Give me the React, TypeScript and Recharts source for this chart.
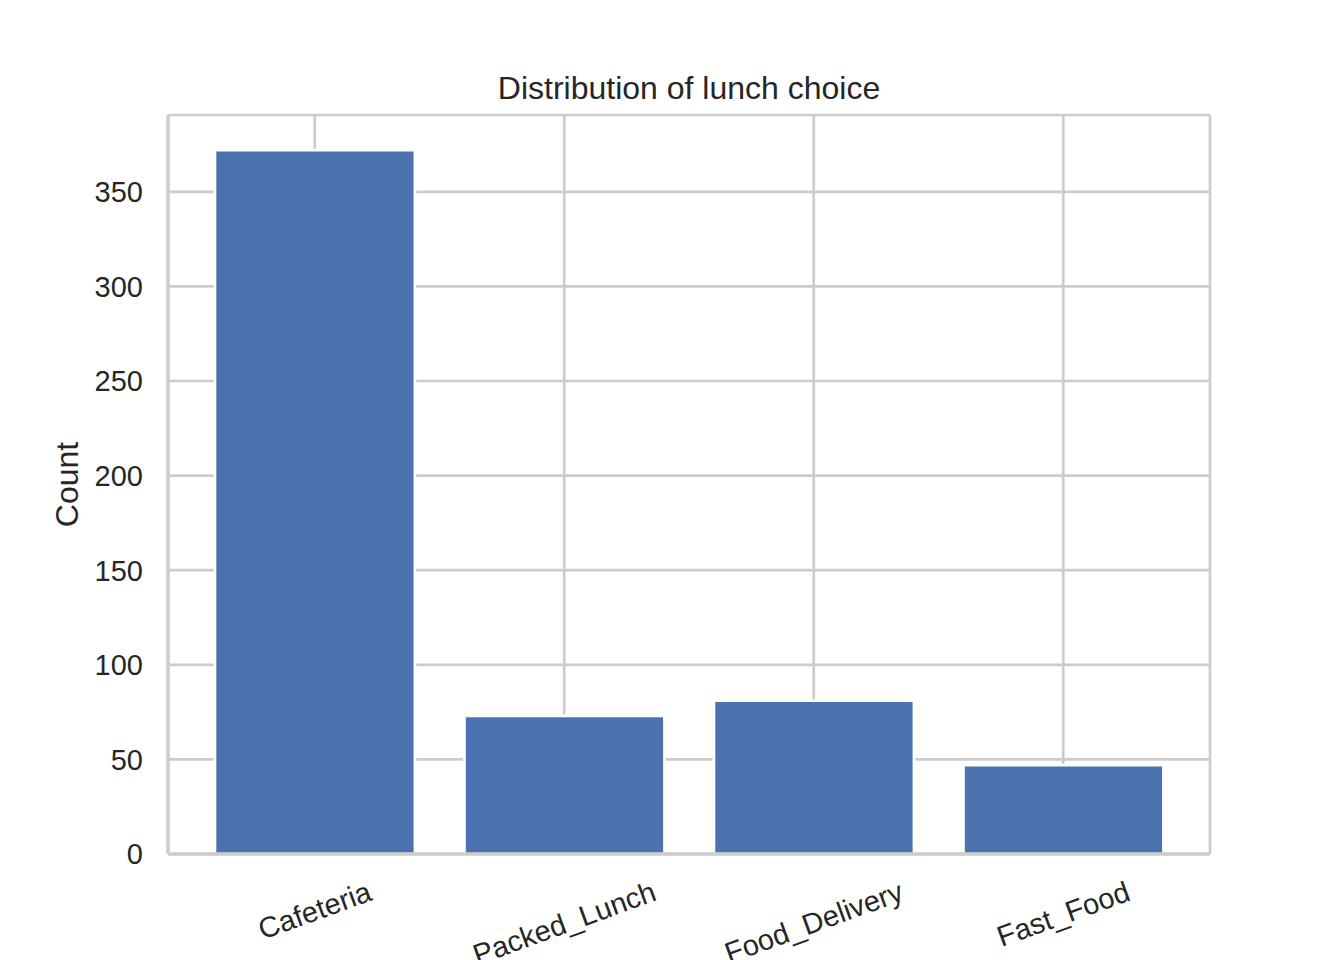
import React from 'react';
import { BarChart, Bar, XAxis, YAxis, CartesianGrid } from 'recharts';

const categories = ['Cafeteria', 'Packed_Lunch', 'Food_Delivery', 'Fast_Food'];
const counts = [372, 73, 81, 47];
const yTicks = [0, 50, 100, 150, 200, 250, 300, 350];
const chartTitle = 'Distribution of lunch choice';
const yLabel = 'Count';

const data = categories.map((c, i) => ({ category: c, count: counts[i] }));
const yMax = Math.max(...counts) * 1.05;

const FONT = '"Liberation Sans", Arial, Helvetica, sans-serif';
const TEXT = '#262626';
const GRID = '#cccccc';
const BAR = '#4c72b0';
const TICK_SIZE = 29;

function measure(text: string, size: number): number {
  try {
    const ctx = document.createElement('canvas').getContext('2d');
    if (!ctx) throw new Error('no ctx');
    ctx.font = `${size}px "Liberation Sans"`;
    return ctx.measureText(text).width;
  } catch {
    return text.length * size * 0.55;
  }
}

const XTick = (props: any) => {
  const { x, y, payload } = props;
  const label = String(payload.value);
  const w = measure(label, TICK_SIZE);
  const rad = (20 * Math.PI) / 180;
  const cy = y + 21 + (w * Math.sin(rad) + 32.4 * Math.cos(rad)) / 2;
  return (
    <text
      x={x}
      y={cy}
      textAnchor="middle"
      dominantBaseline="central"
      transform={`rotate(-20, ${x}, ${cy})`}
      fill={TEXT}
      fontSize={TICK_SIZE}
      fontFamily={FONT}
    >
      {label}
    </text>
  );
};

const YLabel = (props: any) => {
  const vb = props.viewBox || { x: 0, y: 115, width: 168, height: 739 };
  const cx = vb.x + 77.5;
  const cy = vb.y + vb.height / 2;
  return (
    <text
      x={cx}
      y={cy}
      textAnchor="middle"
      transform={`rotate(-90, ${cx}, ${cy})`}
      fill={TEXT}
      fontSize={32}
      fontFamily={FONT}
    >
      {yLabel}
    </text>
  );
};

export default function App() {
  const spine = { stroke: GRID, strokeWidth: 3.3 };
  return (
    <div style={{ position: 'absolute', left: 0, top: 0, width: 1344, height: 960, background: '#ffffff' }}>
      <BarChart
        width={1344}
        height={960}
        data={data}
        margin={{ top: 115, right: 134, bottom: 0, left: 0 }}
        barCategoryGap="10%"
      >
        <CartesianGrid stroke={GRID} strokeWidth={2.67} />
        <XAxis
          dataKey="category"
          height={106}
          padding={{ left: 22, right: 22 }}
          tickLine={false}
          tickSize={0}
          tickMargin={0}
          axisLine={spine}
          tick={<XTick />}
          interval={0}
        />
        <XAxis
          xAxisId="top"
          dataKey="category"
          orientation="top"
          height={0}
          tick={false}
          tickLine={false}
          axisLine={spine}
        />
        <YAxis
          width={168}
          domain={[0, yMax]}
          ticks={yTicks}
          tickLine={false}
          tickSize={0}
          tickMargin={25}
          axisLine={spine}
          tick={{ fill: TEXT, fontSize: TICK_SIZE, fontFamily: FONT }}
          label={<YLabel />}
        />
        <YAxis
          yAxisId="right"
          orientation="right"
          width={0}
          domain={[0, yMax]}
          tick={false}
          tickLine={false}
          axisLine={spine}
        />
        <Bar
          dataKey="count"
          fill={BAR}
          stroke="#ffffff"
          strokeWidth={2.7}
          isAnimationActive={false}
        />
      </BarChart>
      <svg
        width={1344}
        height={120}
        style={{ position: 'absolute', left: 0, top: 0, pointerEvents: 'none' }}
      >
        <text x={689} y={99} textAnchor="middle" fill={TEXT} fontSize={32} fontFamily={FONT}>
          {chartTitle}
        </text>
      </svg>
    </div>
  );
}
